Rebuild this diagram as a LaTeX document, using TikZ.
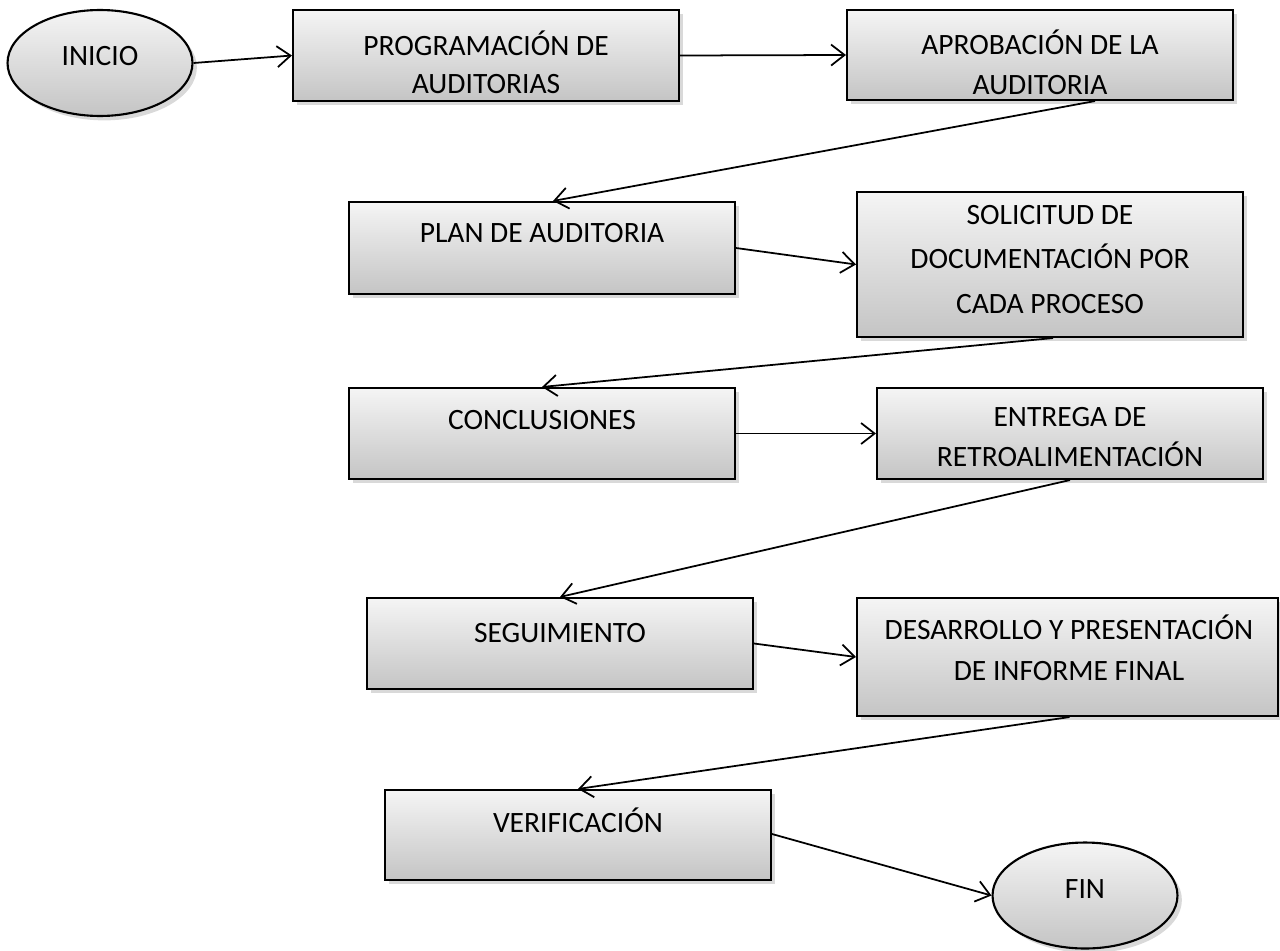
\documentclass[tikz,border=0pt]{standalone}
\usepackage{fontspec}
\setmainfont{Carlito}
\usetikzlibrary{arrows.meta,shapes.geometric,shadows,calc}
\begin{document}
\begin{tikzpicture}[x=0.02cm,y=-0.02cm,
  box/.style={draw=black,line width=1.2pt,rectangle,top color=gray!8,bottom color=gray!46,
     drop shadow={shadow xshift=2.5pt,shadow yshift=-2.5pt,opacity=0.3}},
  oval/.style={draw=black,line width=1.2pt,ellipse,inner sep=0pt,top color=gray!8,bottom color=gray!46,
     drop shadow={shadow xshift=2.5pt,shadow yshift=-2.5pt,opacity=0.3},
     minimum width=3.7cm,minimum height=2.12cm},
  txt/.style={align=center,inner sep=0pt,font=\fontsize{16.8}{22.8}\selectfont},
  arr/.style={line width=1pt,-{Straight Barb[length=0.27cm,width=0.42cm,line width=1pt]}}
]
\useasboundingbox (0,0) rectangle (1280,950);
% shapes
\node[oval] (ini) at (100,63) {};
\node[box,minimum width=7.72cm,minimum height=1.82cm] (prog) at (486,55.5) {};
\node[box,minimum width=7.72cm,minimum height=1.80cm] (aprob) at (1040,55) {};
\node[box,minimum width=7.72cm,minimum height=1.84cm] (plan) at (542,248) {};
\node[box,minimum width=7.72cm,minimum height=2.90cm] (sol) at (1050,264.5) {};
\node[box,minimum width=7.72cm,minimum height=1.82cm] (conc) at (542,433.5) {};
\node[box,minimum width=7.72cm,minimum height=1.82cm] (entr) at (1070,433.5) {};
\node[box,minimum width=7.72cm,minimum height=1.82cm] (seg) at (560,643.5) {};
\node[box,minimum width=8.42cm,minimum height=2.36cm] (des) at (1067.5,657) {};
\node[box,minimum width=7.72cm,minimum height=1.80cm] (ver) at (578,835) {};
\node[oval] (fin) at (1085,895.5) {};
% texts
\node[txt] (tini) at (100,56) {INICIO};
\node[txt] (tfin) at (1085,889) {FIN};
\node[txt,font=\fontsize{16.8}{21.6}\selectfont] (tprog) at (486,62) {PROGRAMACIÓN DE\\AUDITORIAS};
\node[txt] (taprob) at (1040,62) {APROBACIÓN DE LA\\AUDITORIA};
\node[txt] (tplan) at (542,233) {PLAN DE AUDITORIA};
\node[txt,font=\fontsize{16.8}{25.5}\selectfont] (tsol) at (1050,259.5) {SOLICITUD DE\\DOCUMENTACIÓN POR\\CADA PROCESO};
\node[txt] (tconc) at (542,420) {CONCLUSIONES};
\node[txt] (tentr) at (1070,437) {ENTREGA DE\\RETROALIMENTACIÓN};
\node[txt] (tseg) at (560,633) {SEGUIMIENTO};
\node[txt,font=\fontsize{16.8}{23.2}\selectfont] (tdes) at (1069,647.5) {DESARROLLO Y PRESENTACIÓN\\DE INFORME FINAL};
\node[txt] (tver) at (578,820) {VERIFICACIÓN};
% connectors
\draw[arr] (ini.east) -- (prog.west);
\draw[arr] (prog.east) -- (aprob.west);
\draw[arr] ($(aprob.south)+(55,0)$) -- ($(plan.north)+(11,0)$);
\draw[arr] (plan.east) -- (sol.west);
\draw[arr] ($(sol.south)+(3,0)$) -- (conc.north);
\draw[arr] (conc.east) -- (entr.west);
\draw[arr] (entr.south) -- (seg.north);
\draw[arr] (seg.east) -- (des.west);
\draw[arr] ($(des.south)+(2,0)$) -- (ver.north);
\draw[arr] ($(ver.east)+(0,-1)$) -- (fin.west);
\end{tikzpicture}
\end{document}
